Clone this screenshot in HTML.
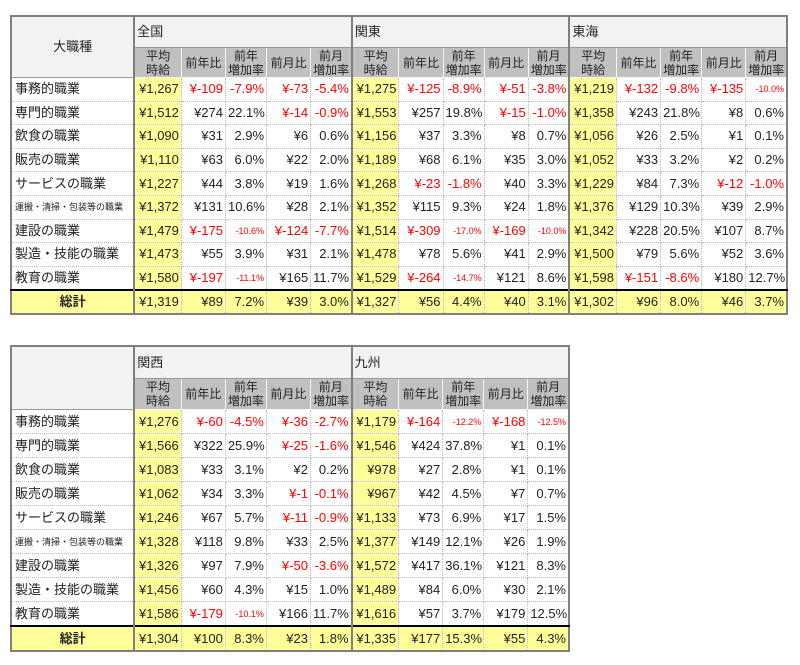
<!DOCTYPE html>
<html><head><meta charset="utf-8"><style>
body{margin:0;background:#fff;font-family:"Liberation Sans","Noto Sans CJK JP",sans-serif;font-size:13px;color:#222}
table{position:absolute;left:10px;border-collapse:collapse;table-layout:fixed;border:2px solid #7f7f7f}
td{padding:0 2px;border:1px dotted #bbb;white-space:nowrap;overflow:hidden;text-align:right;height:23px;line-height:22px}
table.a td{height:22.6px}
td.l{text-align:left;padding-left:3px}
tr.h1 td{height:31px;background:#f2f2f2;text-align:left;border-left:2px solid #7f7f7f;border-bottom:1px solid #999}
table.a tr.h1 td{height:30px}
tr.h2 td{height:30px;background:#c0c0c0;text-align:center;line-height:14px;font-size:12px;border:1px dotted #eee}
table.a tr.h2 td{height:29px}
tr.h1 td.c{background:#f2f2f2;text-align:center;border-right:2px solid #7f7f7f;border-left:none}
td.y{background:#ffff99;border-left:2px solid #7f7f7f}
.r{color:#f00}
.s{font-size:9px}
.t9{font-size:9px}
tr.tot td{border-top:2px solid #000;background:#ffff99;height:23px}
table.a tr.tot td{height:22px}
tr.tot td.k{text-align:center;font-weight:bold;border-right:2px solid #7f7f7f}
td.lb{border-right:2px solid #7f7f7f}
</style></head><body>
<table class="a" style="top:15px;width:778px">
<colgroup><col style="width:123px"><col style="width:47px"><col style="width:44px"><col style="width:41px"><col style="width:44px"><col style="width:41px"><col style="width:47px"><col style="width:44px"><col style="width:41px"><col style="width:44px"><col style="width:41px"><col style="width:47px"><col style="width:44px"><col style="width:41px"><col style="width:44px"><col style="width:41px"></colgroup>
<tr class="h1"><td class="c" rowspan="2">大職種</td><td colspan="5">全国</td><td colspan="5">関東</td><td colspan="5">東海</td></tr>
<tr class="h2"><td style="border-left:2px solid #7f7f7f">平均<br>時給</td><td>前年比</td><td>前年<br>増加率</td><td>前月比</td><td>前月<br>増加率</td><td style="border-left:2px solid #7f7f7f">平均<br>時給</td><td>前年比</td><td>前年<br>増加率</td><td>前月比</td><td>前月<br>増加率</td><td style="border-left:2px solid #7f7f7f">平均<br>時給</td><td>前年比</td><td>前年<br>増加率</td><td>前月比</td><td>前月<br>増加率</td></tr>
<tr><td class="l lb">事務的職業</td><td class="y">¥1,267</td><td class="r">¥-109</td><td class="r">-7.9%</td><td class="r">¥-73</td><td class="r">-5.4%</td><td class="y">¥1,275</td><td class="r">¥-125</td><td class="r">-8.9%</td><td class="r">¥-51</td><td class="r">-3.8%</td><td class="y">¥1,219</td><td class="r">¥-132</td><td class="r">-9.8%</td><td class="r">¥-135</td><td class="r s">-10.0%</td></tr>
<tr><td class="l lb">専門的職業</td><td class="y">¥1,512</td><td>¥274</td><td>22.1%</td><td class="r">¥-14</td><td class="r">-0.9%</td><td class="y">¥1,553</td><td>¥257</td><td>19.8%</td><td class="r">¥-15</td><td class="r">-1.0%</td><td class="y">¥1,358</td><td>¥243</td><td>21.8%</td><td>¥8</td><td>0.6%</td></tr>
<tr><td class="l lb">飲食の職業</td><td class="y">¥1,090</td><td>¥31</td><td>2.9%</td><td>¥6</td><td>0.6%</td><td class="y">¥1,156</td><td>¥37</td><td>3.3%</td><td>¥8</td><td>0.7%</td><td class="y">¥1,056</td><td>¥26</td><td>2.5%</td><td>¥1</td><td>0.1%</td></tr>
<tr><td class="l lb">販売の職業</td><td class="y">¥1,110</td><td>¥63</td><td>6.0%</td><td>¥22</td><td>2.0%</td><td class="y">¥1,189</td><td>¥68</td><td>6.1%</td><td>¥35</td><td>3.0%</td><td class="y">¥1,052</td><td>¥33</td><td>3.2%</td><td>¥2</td><td>0.2%</td></tr>
<tr><td class="l lb">サービスの職業</td><td class="y">¥1,227</td><td>¥44</td><td>3.8%</td><td>¥19</td><td>1.6%</td><td class="y">¥1,268</td><td class="r">¥-23</td><td class="r">-1.8%</td><td>¥40</td><td>3.3%</td><td class="y">¥1,229</td><td>¥84</td><td>7.3%</td><td class="r">¥-12</td><td class="r">-1.0%</td></tr>
<tr><td class="l lb t9">運搬・清掃・包装等の職業</td><td class="y">¥1,372</td><td>¥131</td><td>10.6%</td><td>¥28</td><td>2.1%</td><td class="y">¥1,352</td><td>¥115</td><td>9.3%</td><td>¥24</td><td>1.8%</td><td class="y">¥1,376</td><td>¥129</td><td>10.3%</td><td>¥39</td><td>2.9%</td></tr>
<tr><td class="l lb">建設の職業</td><td class="y">¥1,479</td><td class="r">¥-175</td><td class="r s">-10.6%</td><td class="r">¥-124</td><td class="r">-7.7%</td><td class="y">¥1,514</td><td class="r">¥-309</td><td class="r s">-17.0%</td><td class="r">¥-169</td><td class="r s">-10.0%</td><td class="y">¥1,342</td><td>¥228</td><td>20.5%</td><td>¥107</td><td>8.7%</td></tr>
<tr><td class="l lb">製造・技能の職業</td><td class="y">¥1,473</td><td>¥55</td><td>3.9%</td><td>¥31</td><td>2.1%</td><td class="y">¥1,478</td><td>¥78</td><td>5.6%</td><td>¥41</td><td>2.9%</td><td class="y">¥1,500</td><td>¥79</td><td>5.6%</td><td>¥52</td><td>3.6%</td></tr>
<tr><td class="l lb">教育の職業</td><td class="y">¥1,580</td><td class="r">¥-197</td><td class="r s">-11.1%</td><td>¥165</td><td>11.7%</td><td class="y">¥1,529</td><td class="r">¥-264</td><td class="r s">-14.7%</td><td>¥121</td><td>8.6%</td><td class="y">¥1,598</td><td class="r">¥-151</td><td class="r">-8.6%</td><td>¥180</td><td>12.7%</td></tr>
<tr class="tot"><td class="k">総計</td><td class="y">¥1,319</td><td>¥89</td><td>7.2%</td><td>¥39</td><td>3.0%</td><td class="y">¥1,327</td><td>¥56</td><td>4.4%</td><td>¥40</td><td>3.1%</td><td class="y">¥1,302</td><td>¥96</td><td>8.0%</td><td>¥46</td><td>3.7%</td></tr>
</table>

<table style="top:345px;width:560px">
<colgroup><col style="width:123px"><col style="width:47px"><col style="width:44px"><col style="width:41px"><col style="width:44px"><col style="width:41px"><col style="width:47px"><col style="width:44px"><col style="width:41px"><col style="width:44px"><col style="width:41px"></colgroup>
<tr class="h1"><td class="c" rowspan="2"></td><td colspan="5">関西</td><td colspan="5">九州</td></tr>
<tr class="h2"><td style="border-left:2px solid #7f7f7f">平均<br>時給</td><td>前年比</td><td>前年<br>増加率</td><td>前月比</td><td>前月<br>増加率</td><td style="border-left:2px solid #7f7f7f">平均<br>時給</td><td>前年比</td><td>前年<br>増加率</td><td>前月比</td><td>前月<br>増加率</td></tr>
<tr><td class="l lb">事務的職業</td><td class="y">¥1,276</td><td class="r">¥-60</td><td class="r">-4.5%</td><td class="r">¥-36</td><td class="r">-2.7%</td><td class="y">¥1,179</td><td class="r">¥-164</td><td class="r s">-12.2%</td><td class="r">¥-168</td><td class="r s">-12.5%</td></tr>
<tr><td class="l lb">専門的職業</td><td class="y">¥1,566</td><td>¥322</td><td>25.9%</td><td class="r">¥-25</td><td class="r">-1.6%</td><td class="y">¥1,546</td><td>¥424</td><td>37.8%</td><td>¥1</td><td>0.1%</td></tr>
<tr><td class="l lb">飲食の職業</td><td class="y">¥1,083</td><td>¥33</td><td>3.1%</td><td>¥2</td><td>0.2%</td><td class="y">¥978</td><td>¥27</td><td>2.8%</td><td>¥1</td><td>0.1%</td></tr>
<tr><td class="l lb">販売の職業</td><td class="y">¥1,062</td><td>¥34</td><td>3.3%</td><td class="r">¥-1</td><td class="r">-0.1%</td><td class="y">¥967</td><td>¥42</td><td>4.5%</td><td>¥7</td><td>0.7%</td></tr>
<tr><td class="l lb">サービスの職業</td><td class="y">¥1,246</td><td>¥67</td><td>5.7%</td><td class="r">¥-11</td><td class="r">-0.9%</td><td class="y">¥1,133</td><td>¥73</td><td>6.9%</td><td>¥17</td><td>1.5%</td></tr>
<tr><td class="l lb t9">運搬・清掃・包装等の職業</td><td class="y">¥1,328</td><td>¥118</td><td>9.8%</td><td>¥33</td><td>2.5%</td><td class="y">¥1,377</td><td>¥149</td><td>12.1%</td><td>¥26</td><td>1.9%</td></tr>
<tr><td class="l lb">建設の職業</td><td class="y">¥1,326</td><td>¥97</td><td>7.9%</td><td class="r">¥-50</td><td class="r">-3.6%</td><td class="y">¥1,572</td><td>¥417</td><td>36.1%</td><td>¥121</td><td>8.3%</td></tr>
<tr><td class="l lb">製造・技能の職業</td><td class="y">¥1,456</td><td>¥60</td><td>4.3%</td><td>¥15</td><td>1.0%</td><td class="y">¥1,489</td><td>¥84</td><td>6.0%</td><td>¥30</td><td>2.1%</td></tr>
<tr><td class="l lb">教育の職業</td><td class="y">¥1,586</td><td class="r">¥-179</td><td class="r s">-10.1%</td><td>¥166</td><td>11.7%</td><td class="y">¥1,616</td><td>¥57</td><td>3.7%</td><td>¥179</td><td>12.5%</td></tr>
<tr class="tot"><td class="k">総計</td><td class="y">¥1,304</td><td>¥100</td><td>8.3%</td><td>¥23</td><td>1.8%</td><td class="y">¥1,335</td><td>¥177</td><td>15.3%</td><td>¥55</td><td>4.3%</td></tr>
</table>
</body></html>
